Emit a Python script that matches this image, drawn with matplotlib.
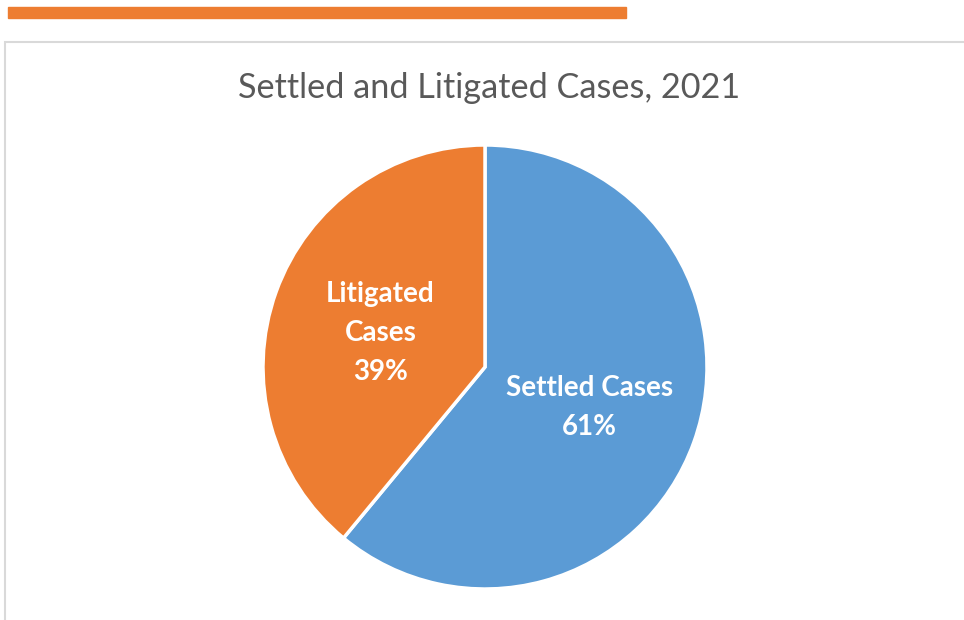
import numpy as np
import matplotlib.pyplot as plt
from matplotlib.patches import Rectangle

categories = ['Settled Cases', 'Litigated Cases']
labels = ['Settled Cases', 'Litigated\nCases']
shares = [61, 39]
colors = ['#5B9BD5', '#ED7D31']
title = 'Settled and Litigated Cases, 2021'

plt.rcParams['font.family'] = ['Lato', 'DejaVu Sans']

W, H = 964, 620
fig = plt.figure(figsize=(W / 100, H / 100), dpi=100)

# orange header bar and chart frame
fig.patches.append(Rectangle((8 / W, 1 - 18 / H), 618 / W, 11 / H,
                             transform=fig.transFigure, color='#ED7D31'))
fig.patches.append(Rectangle((5 / W, -0.05), 1.0, 1 - 42 / H + 0.05,
                             transform=fig.transFigure, facecolor='white',
                             edgecolor='#D9D9D9', lw=1.5, zorder=-1))

fig.text(489 / W, 1 - 88 / H, title, ha='center', va='center',
         fontsize=24.7, color='#595959')

cx, cy, r = 485, 367, 222
ax = fig.add_axes([(cx - r) / W, (H - cy - r) / H, 2 * r / W, 2 * r / H])
wedges, _ = ax.pie(shares, colors=colors, startangle=90, counterclock=False,
                   wedgeprops=dict(edgecolor='white', linewidth=2.5))

for w, lab, s in zip(wedges, labels, shares):
    mid = np.deg2rad((w.theta1 + w.theta2) / 2)
    ax.text(0.5 * np.cos(mid), 0.5 * np.sin(mid) - 0.015, f'{lab}\n{s}%',
            ha='center', va='center', color='white', fontsize=20,
            fontweight='bold', linespacing=1.62)
ax.set_xlim(-1, 1)
ax.set_ylim(-1, 1)
ax.set_aspect('equal')
ax.axis('off')

fig.savefig('out.png', dpi=100)
